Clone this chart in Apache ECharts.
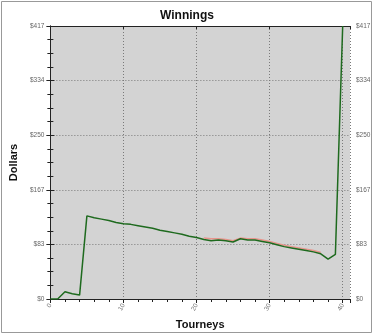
<!DOCTYPE html>
<html>
<head>
<meta charset="utf-8">
<script src="https://cdn.jsdelivr.net/npm/echarts@6/dist/echarts.min.js"></script>
<style>html,body{margin:0;padding:0;background:#fff;}#c{width:374px;height:336px;}</style>
</head>
<body>
<div id="c"></div>
<script>
var tourneys = [0,1,2,3,4,5,6,7,8,9,10,11,12,13,14,15,16,17,18,19,20,21,22,23,24,25,26,27,28,29,30,31,32,33,34,35,36,37,38,39,40];
var winnings = [0,0,11,8,6,127,124,122,120,117,115,114,112,110,108,105,103,101,99,96,94,91,89,90,89,87,92,90,90,88,86,83,80,78,76,74,72,69,61,68,417];
var redTourneys = [21,22,23,24,25,26,27,28,29,30,31,32,33,34,35,36,37];
var redValues = [93,92,92,91,89,93,92,92,90,88,85,82,80,78,76,74,71];
var yTickValues = [0,83,167,250,334,417];
var xTickLabels = [0,10,20,30,40];

var greenData = tourneys.map(function(t,i){return [t, winnings[i]];});
var redData = redTourneys.map(function(t,i){return [t, redValues[i]];});

var chart = echarts.init(document.getElementById('c'));
var font = 'Liberation Sans, Arial, sans-serif';
var yMax = yTickValues[yTickValues.length-1];
var yAxisCommon = {
  type:'value', min:0, max:yMax, interval:yMax/5,
  axisLine:{show:true, lineStyle:{color:'#222', width:1}},
  axisTick:{show:true, length:4, lineStyle:{color:'#222'}},
  minorTick:{show:true, splitNumber:4, length:3, lineStyle:{color:'#222'}},
  splitLine:{show:false},
  axisLabel:{fontSize:6.5, color:'#666', fontFamily:font, margin:6,
    formatter:function(v){return '$'+Math.round(v);}}
};
chart.setOption({
  animation:false,
  backgroundColor:'#fff',
  title:{text:'Winnings', left:'center', top:5,
    textStyle:{fontSize:12, fontWeight:'bold', color:'#111', fontFamily:font}},
  grid:{left:40, right:24, top:26, bottom:37, show:true, backgroundColor:'#d3d3d3', borderWidth:0},
  graphic:[{type:'rect', shape:{x:1.5,y:1.5,width:370,height:331}, style:{fill:'none', stroke:'#999', lineWidth:1}, silent:true}],
  xAxis:[{
    type:'value', min:0, max:41, interval:10, position:'bottom',
    name:'Tourneys', nameLocation:'middle', nameGap:19,
    nameTextStyle:{fontSize:11, fontWeight:'bold', color:'#111', fontFamily:font},
    axisLine:{show:true, onZero:false, lineStyle:{color:'#222'}},
    axisTick:{show:true, length:4, lineStyle:{color:'#222'}},
    minorTick:{show:true, splitNumber:5, length:3, lineStyle:{color:'#222'}},
    splitLine:{show:true, lineStyle:{color:'#7a7a7a', type:[1,2], width:1}},
    axisLabel:{fontSize:6.5, color:'#777', fontFamily:font, rotate:60, margin:5, showMaxLabel:false,
      formatter:function(v){return xTickLabels.indexOf(v)>=0 ? String(v) : '';}}
  },{
    type:'value', min:0, max:41, interval:10, position:'top',
    axisLine:{show:true, onZero:false, lineStyle:{color:'#222'}},
    axisTick:{show:true, inside:true, length:3, lineStyle:{color:'#222'}},
    minorTick:{show:false},
    splitLine:{show:false}, axisLabel:{show:false}
  }],
  yAxis:[Object.assign({}, yAxisCommon, {position:'left',
      name:'Dollars', nameLocation:'middle', nameGap:22,
      nameTextStyle:{fontSize:11, fontWeight:'bold', color:'#111', fontFamily:font},
      splitLine:{show:true, lineStyle:{color:'#7a7a7a', type:[1,2], width:1}}}),
    Object.assign({}, yAxisCommon, {position:'right'})],
  series:[
    {type:'line', data:redData, xAxisIndex:0, yAxisIndex:0, symbol:'none', z:2,
      lineStyle:{color:'#e8948c', width:1.5}},
    {type:'line', data:greenData, xAxisIndex:0, yAxisIndex:0, symbol:'none', z:3, clip:true,
      lineStyle:{color:'#1e6a1e', width:1.5}}
  ]
});
</script>
</body>
</html>
